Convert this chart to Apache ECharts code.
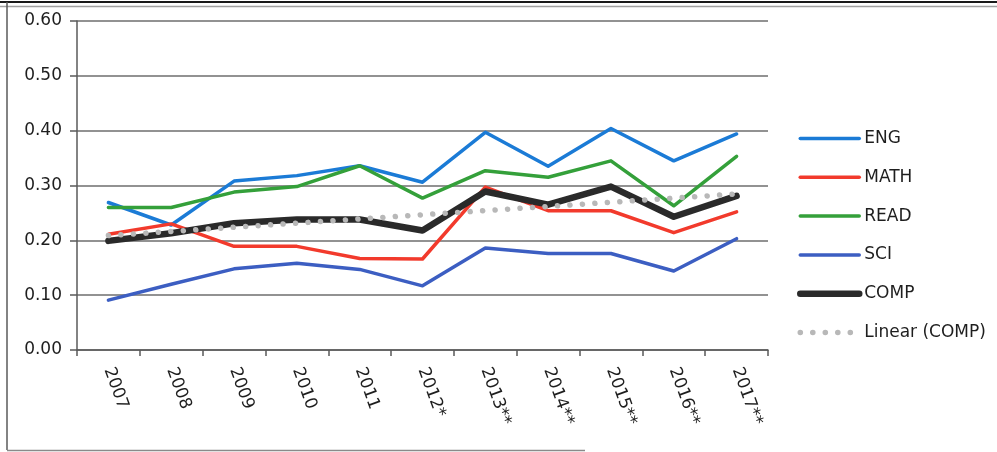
<!DOCTYPE html>
<html>
<head>
<meta charset="utf-8">
<script src="https://cdn.jsdelivr.net/npm/echarts@6/dist/echarts.min.js"></script>
<style>
  html, body { margin: 0; padding: 0; background: #fff; }
  #chart { width: 997px; height: 452px; }
</style>
</head>
<body>
<div id="chart"></div>
<script>
// School years on the category axis
const years = ['2007', '2008', '2009', '2010', '2011', '2012*', '2013**', '2014**', '2015**', '2016**', '2017**'];

// Subject scores per year
const eng  = [0.269, 0.228, 0.308, 0.318, 0.336, 0.306, 0.397, 0.335, 0.404, 0.345, 0.394];
const math = [0.211, 0.230, 0.189, 0.189, 0.167, 0.166, 0.297, 0.254, 0.254, 0.214, 0.252];
const read = [0.260, 0.260, 0.288, 0.298, 0.336, 0.277, 0.327, 0.315, 0.345, 0.263, 0.353];
const sci  = [0.091, 0.120, 0.148, 0.158, 0.147, 0.117, 0.186, 0.176, 0.176, 0.144, 0.203];
const comp = [0.199, 0.213, 0.231, 0.238, 0.238, 0.218, 0.289, 0.265, 0.298, 0.243, 0.281];

// Value axis ticks
const yTicks = { min: 0, max: 0.6, interval: 0.1 };

// Least-squares linear trend of the composite score
function linearTrend(values) {
  const n = values.length;
  const mx = (n - 1) / 2;
  const my = values.reduce((a, b) => a + b, 0) / n;
  let sxy = 0, sxx = 0;
  values.forEach((v, i) => { sxy += (i - mx) * (v - my); sxx += (i - mx) * (i - mx); });
  const slope = sxy / sxx;
  return values.map((_, i) => +(my + slope * (i - mx)).toFixed(4));
}
const compTrend = linearTrend(comp);

const FONT = 'DejaVu Sans';

function lineSeries(name, data, color, width) {
  return {
    name, type: 'line', data,
    symbol: 'none', smooth: false,
    lineStyle: { color, width, cap: 'round', join: 'round' },
    itemStyle: { color },
    emphasis: { disabled: true },
    animation: false
  };
}

const chart = echarts.init(document.getElementById('chart'), null, { renderer: 'canvas' });
chart.setOption({
  backgroundColor: '#ffffff',
  animation: false,
  grid: { left: 77, right: 229, top: 21, bottom: 102, containLabel: false },
  legend: {
    orient: 'vertical',
    left: 797,
    top: 130,
    padding: 0,
    itemWidth: 59,
    itemHeight: 16,
    itemGap: 21.8,
    itemStyle: { opacity: 0 },
    lineStyle: { width: 'inherit', type: 'inherit', cap: 'round' },
    textStyle: { fontFamily: FONT, fontSize: 17, color: '#1e1e1e', lineHeight: 16 },
    data: ['ENG', 'MATH', 'READ', 'SCI', 'COMP', 'Linear (COMP)']
  },
  xAxis: {
    type: 'category',
    data: years,
    boundaryGap: true,
    axisLine: { lineStyle: { color: '#5a5a5a', width: 1.5 } },
    axisTick: { show: true, length: 6, lineStyle: { color: '#5a5a5a', width: 1.5 } },
    axisLabel: {
      rotate: -70, margin: 18, interval: 0,
      fontFamily: FONT, fontSize: 17, color: '#1e1e1e'
    },
    splitLine: { show: false }
  },
  yAxis: {
    type: 'value',
    min: yTicks.min, max: yTicks.max, interval: yTicks.interval,
    axisLine: { show: true, lineStyle: { color: '#5a5a5a', width: 1.5 } },
    axisTick: { show: true, length: 7, lineStyle: { color: '#5a5a5a', width: 1.5 } },
    axisLabel: {
      margin: 15, fontFamily: FONT, fontSize: 17, color: '#1e1e1e',
      formatter: v => v.toFixed(2)
    },
    splitLine: { show: true, lineStyle: { color: '#6e6e6e', width: 1.5 } }
  },
  series: [
    lineSeries('ENG', eng, '#1b7bd6', 3.5),
    lineSeries('MATH', math, '#f23a2c', 3.5),
    lineSeries('READ', read, '#34a03a', 3.5),
    lineSeries('SCI', sci, '#3c5ec2', 3.5),
    lineSeries('COMP', comp, '#2a2a2a', 6.5),
    {
      name: 'Linear (COMP)', type: 'line', data: compTrend,
      symbol: 'none',
      lineStyle: { color: '#b8b8b8', width: 5.5, type: [0.1, 12.4], cap: 'round' },
      itemStyle: { color: '#b8b8b8' },
      emphasis: { disabled: true },
      animation: false
    }
  ],
  graphic: [
    // page frame around the chart
    { type: 'line', shape: { x1: 0, y1: 2, x2: 997, y2: 2 }, style: { stroke: '#1a1a1a', lineWidth: 2 }, silent: true },
    { type: 'line', shape: { x1: 0, y1: 6.5, x2: 997, y2: 6.5 }, style: { stroke: '#a0a0a0', lineWidth: 1.5 }, silent: true },
    { type: 'line', shape: { x1: 7, y1: 2, x2: 7, y2: 450 }, style: { stroke: '#5a5a5a', lineWidth: 1.5 }, silent: true },
    { type: 'line', shape: { x1: 7, y1: 450.5, x2: 585, y2: 450.5 }, style: { stroke: '#8a8a8a', lineWidth: 1.5 }, silent: true }
  ]
});
</script>
</body>
</html>
